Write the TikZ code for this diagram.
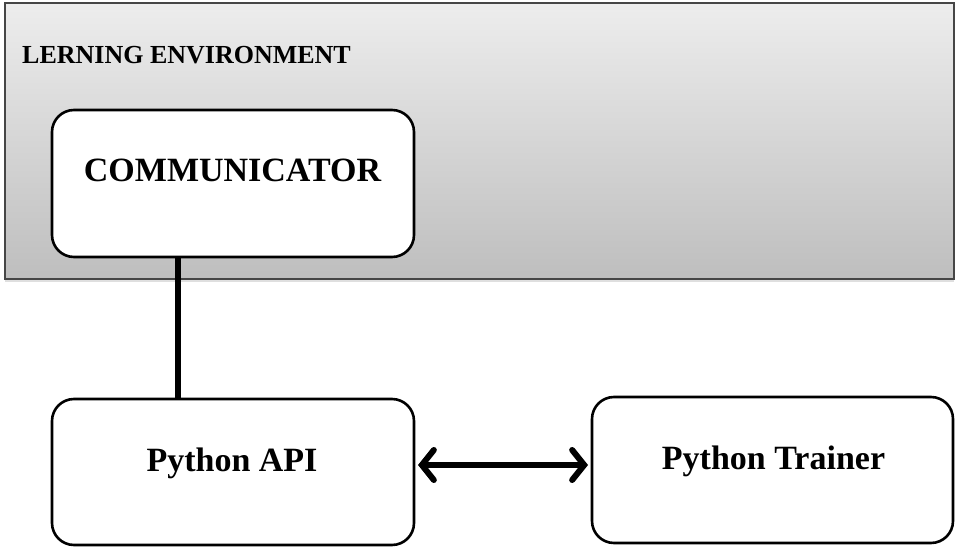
\documentclass[tikz,border=0pt]{standalone}
\usepackage{fontspec}
\setmainfont{Liberation Serif}
\usetikzlibrary{arrows.meta,shadows}
\definecolor{envtop}{RGB}{237,237,237}
\definecolor{envbot}{RGB}{190,190,190}
\definecolor{envline}{RGB}{70,70,70}
\tikzset{
  envbox/.style={draw=envline, line width=2pt, top color=envtop, bottom color=envbot,
    drop shadow={opacity=0.25, shadow xshift=0pt, shadow yshift=-3pt}},
  modbox/.style={draw=black, line width=2.6pt, fill=white, rounded corners=22pt},
  modlabel/.style={anchor=base, inner sep=0pt, font=\fontsize{34}{37}\selectfont\bfseries},
  link/.style={line width=6pt, draw=black},
  biarrow/.style={line width=6pt, line cap=round,
    {Straight Barb[length=12pt,width=30pt,line cap=round]}-{Straight Barb[length=12pt,width=30pt,line cap=round]}}
}
\begin{document}
\begin{tikzpicture}[x=1pt,y=-1pt]
  \useasboundingbox (0,0) rectangle (956,548);

  % learning environment container
  \path[envbox] (5,3) rectangle (954,279);
  \node[anchor=base west, inner sep=0pt, font=\fontsize{26}{29}\selectfont\bfseries]
    (envtitle) at (22,64) {LERNING ENVIRONMENT};

  % module boxes
  \draw[modbox] (52,110) rectangle (414,257);
  \coordinate (comm-s) at (178,257);
  \node[modlabel] (comm) at (232.5,182) {COMMUNICATOR};

  \draw[modbox] (52,399) rectangle (414,545);
  \coordinate (api-n) at (178,399);
  \coordinate (api-e) at (414,465);
  \node[modlabel] (api) at (232,471) {Python API};

  \draw[modbox] (592,397) rectangle (953,543);
  \coordinate (trainer-w) at (592,465);
  \node[modlabel] (trainer) at (773.5,469) {Python Trainer};

  % connectors
  \draw[link] (comm-s) -- (api-n);
  \draw[biarrow] ([xshift=4pt]api-e) -- ([xshift=-4pt]trainer-w);
\end{tikzpicture}
\end{document}
